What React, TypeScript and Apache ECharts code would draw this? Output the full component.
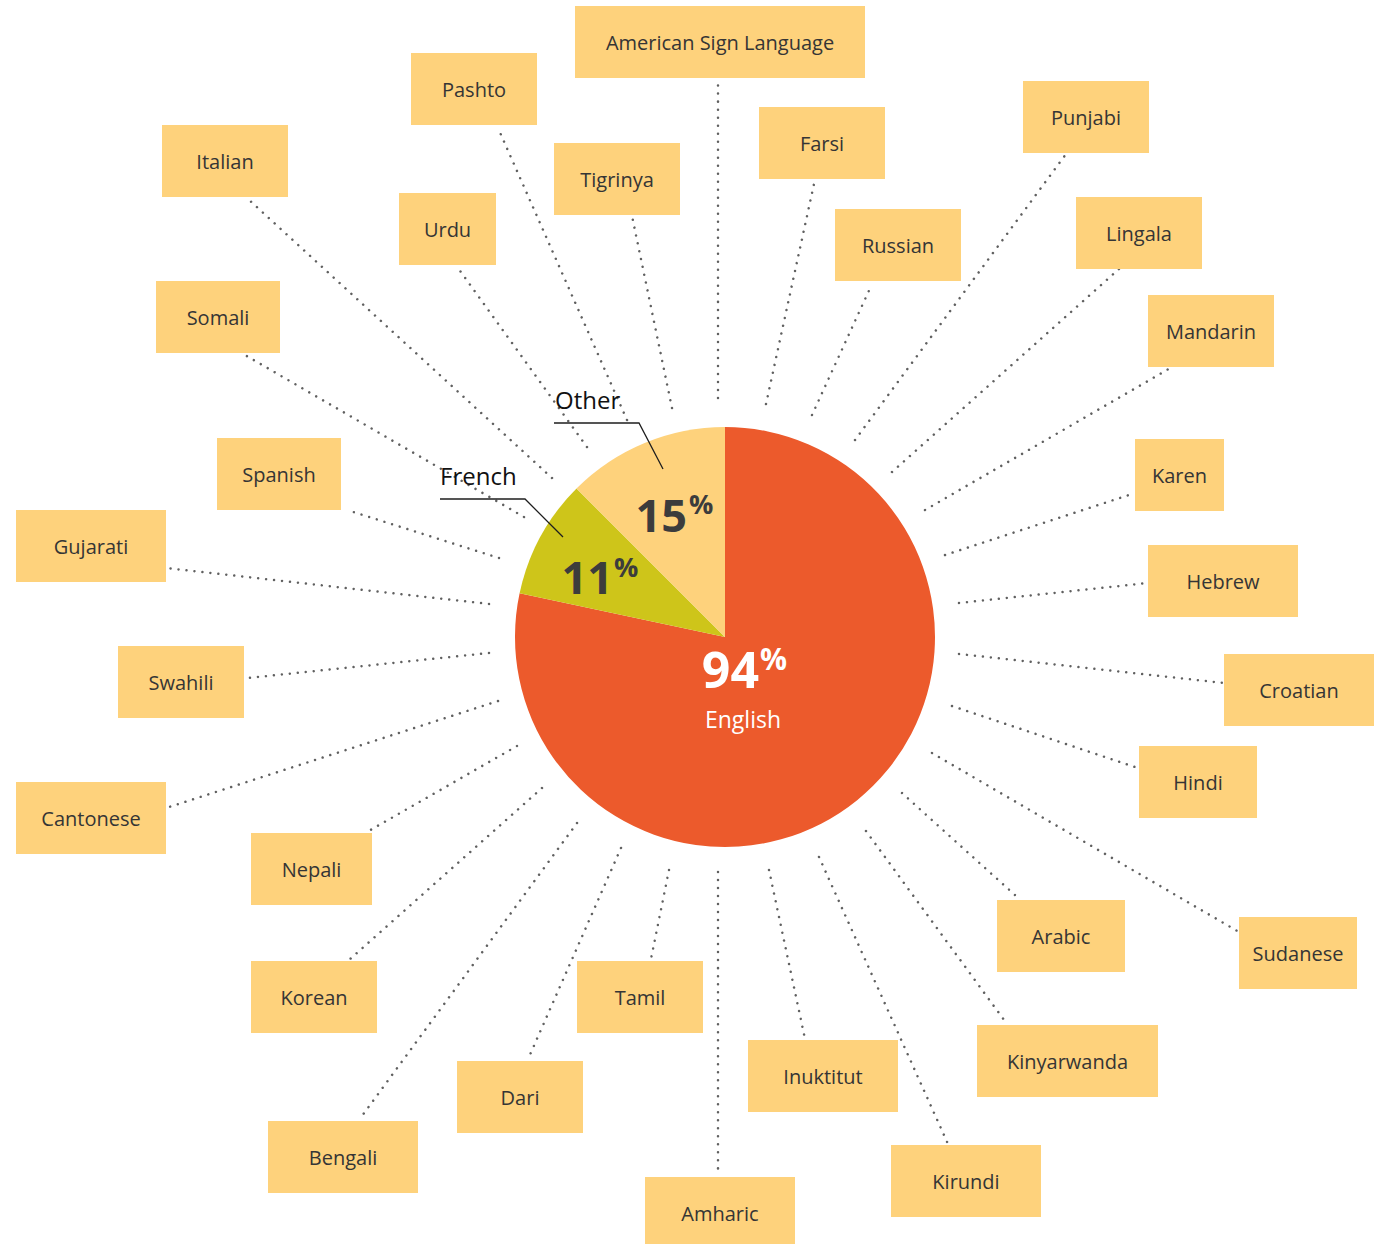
import React, { useEffect, useRef } from "react";
import * as echarts from "echarts";

// ---- data ----
const CATEGORIES = ["English", "French", "Other"];
const SHARES = [94, 11, 15];

const LANGUAGES = [
  "American Sign Language", "Pashto", "Tigrinya", "Urdu", "Italian", "Somali",
  "Spanish", "Gujarati", "Swahili", "Cantonese", "Nepali", "Korean", "Bengali",
  "Dari", "Tamil", "Amharic", "Inuktitut", "Kirundi", "Kinyarwanda", "Arabic",
  "Sudanese", "Hindi", "Croatian", "Hebrew", "Karen", "Mandarin", "Lingala",
  "Punjabi", "Russian", "Farsi",
];

// ---- layout (pixel positions of annotation boxes / connector lines) ----
const BOX_H = 72;
const BOXES: [number, number, number][] = [
  [575, 6, 290], [411, 53, 126], [554, 143, 126], [399, 193, 97], [162, 125, 126],
  [156, 281, 124], [217, 438, 124], [16, 510, 150], [118, 646, 126], [16, 782, 150],
  [251, 833, 121], [251, 961, 126], [268, 1121, 150], [457, 1061, 126], [577, 961, 126],
  [645, 1177, 150], [748, 1040, 150], [891, 1145, 150], [977, 1025, 181], [997, 900, 128],
  [1239, 917, 118], [1139, 746, 118], [1224, 654, 150], [1148, 545, 150], [1135, 439, 89],
  [1148, 295, 126], [1076, 197, 126], [1023, 81, 126], [835, 209, 126], [759, 107, 126],
];
const LINKS: [number, number, number, number][] = [
  [718, 398, 718, 82], [627, 420, 498, 128], [672, 408, 632, 216], [587, 447, 458, 268],
  [552, 478, 247, 198], [524, 517, 245, 355], [499, 558, 347, 510], [489, 604, 166, 568],
  [489, 653, 248, 678], [498, 701, 166, 808], [517, 746, 367, 832], [542, 788, 349, 960],
  [577, 823, 359, 1120], [621, 848, 529, 1057], [669, 870, 651, 959], [718, 872, 718, 1176],
  [769, 870, 805, 1039], [819, 857, 948, 1144], [866, 831, 1007, 1024], [902, 793, 1016, 896],
  [932, 753, 1239, 932], [952, 706, 1138, 768], [959, 654, 1224, 683], [959, 603, 1148, 583],
  [945, 555, 1135, 493], [925, 510, 1172, 367], [892, 472, 1119, 269], [855, 440, 1066, 154],
  [812, 415, 872, 284], [766, 404, 814, 184],
];

// percentage label layout per category: [numRightX, numCenterY, pctLeftX, pctCenterY, numSize, pctSize, color]
const PCT_LAYOUT: [number, number, number, number, number, number, string][] = [
  [759, 669, 760, 658, 50, 30, "#ffffff"],
  [613, 576, 614, 566, 45, 27, "#3c3c3c"],
  [687, 514, 689, 503, 45, 27, "#3c3c3c"],
];
// leader labels: category index -> [textX, textCenterY, polyline points]
const LEADERS: { idx: number; x: number; y: number; pts: number[][] }[] = [
  { idx: 2, x: 555, y: 399, pts: [[554, 423], [639, 423], [663, 469]] },
  { idx: 1, x: 440, y: 475, pts: [[440, 499], [525, 499], [563, 537]] },
];

const SLICE_COLORS = ["#EC5A2C", "#CEC51A", "#FED27C"];
const BOX_COLOR = "#FED27C";
const FONT = '"Open Sans", "Noto Sans", sans-serif';

export default function App() {
  const ref = useRef<HTMLDivElement>(null);

  useEffect(() => {
    if (!ref.current) return;
    const chart = echarts.init(ref.current, null, { renderer: "svg" });

    const elements: any[] = [];
    LINKS.forEach(([x1, y1, x2, y2]) => {
      elements.push({
        type: "line",
        z: 1,
        silent: true,
        shape: { x1, y1, x2, y2 },
        style: { stroke: "#606060", lineWidth: 2.5, lineDash: [0.01, 8], lineCap: "round" },
      });
    });
    LANGUAGES.forEach((name, i) => {
      const [x, y, w] = BOXES[i];
      elements.push({
        type: "rect",
        z: 2,
        silent: true,
        shape: { x, y, width: w, height: BOX_H },
        style: { fill: BOX_COLOR },
      });
      elements.push({
        type: "text",
        z: 3,
        silent: true,
        x: x + w / 2,
        y: y + BOX_H / 2,
        style: {
          text: name,
          fill: "#353535",
          fontSize: 20,
          fontFamily: FONT,
          align: "center",
          verticalAlign: "middle",
        },
      });
    });
    CATEGORIES.forEach((cat, i) => {
      const [nx, ny, px, py, ns, ps, col] = PCT_LAYOUT[i];
      elements.push({
        type: "text",
        z: 20,
        silent: true,
        x: nx,
        y: ny,
        style: {
          text: String(SHARES[i]),
          fill: col,
          fontSize: ns,
          lineHeight: Math.round(ns * 0.8),
          fontWeight: "bold",
          fontFamily: FONT,
          align: "right",
          verticalAlign: "middle",
        },
      });
      elements.push({
        type: "text",
        z: 20,
        silent: true,
        x: px,
        y: py,
        style: {
          text: "%",
          fill: col,
          fontSize: ps,
          lineHeight: Math.round(ps * 0.8),
          fontWeight: "bold",
          fontFamily: FONT,
          align: "left",
          verticalAlign: "middle",
        },
      });
    });
    // English name inside slice
    elements.push({
      type: "text",
      z: 20,
      silent: true,
      x: 743,
      y: 719,
      style: {
        text: CATEGORIES[0],
        fill: "#ffffff",
        fontSize: 23,
        lineHeight: 22,
        fontFamily: FONT,
        align: "center",
        verticalAlign: "middle",
      },
    });
    LEADERS.forEach((l) => {
      elements.push({
        type: "polyline",
        z: 20,
        silent: true,
        shape: { points: l.pts },
        style: { stroke: "#1e1e1e", lineWidth: 1.3, fill: null },
      });
      elements.push({
        type: "text",
        z: 20,
        silent: true,
        x: l.x,
        y: l.y,
        style: {
          text: CATEGORIES[l.idx],
          fill: "#111111",
          fontSize: 24,
          fontFamily: FONT,
          align: "left",
          verticalAlign: "middle",
        },
      });
    });

    chart.setOption({
      animation: false,
      backgroundColor: "#ffffff",
      series: [
        {
          type: "pie",
          z: 5,
          silent: true,
          center: [725, 637],
          radius: 210,
          startAngle: 90,
          clockwise: true,
          label: { show: false },
          labelLine: { show: false },
          emphasis: { disabled: true },
          itemStyle: { borderWidth: 0 },
          data: CATEGORIES.map((name, i) => ({
            name,
            value: SHARES[i],
            itemStyle: { color: SLICE_COLORS[i] },
          })),
        },
      ],
      graphic: { elements },
    });

    return () => chart.dispose();
  }, []);

  return (
    <div
      ref={ref}
      style={{ position: "absolute", left: 0, top: 0, width: 1386, height: 1244, background: "#fff" }}
    />
  );
}
